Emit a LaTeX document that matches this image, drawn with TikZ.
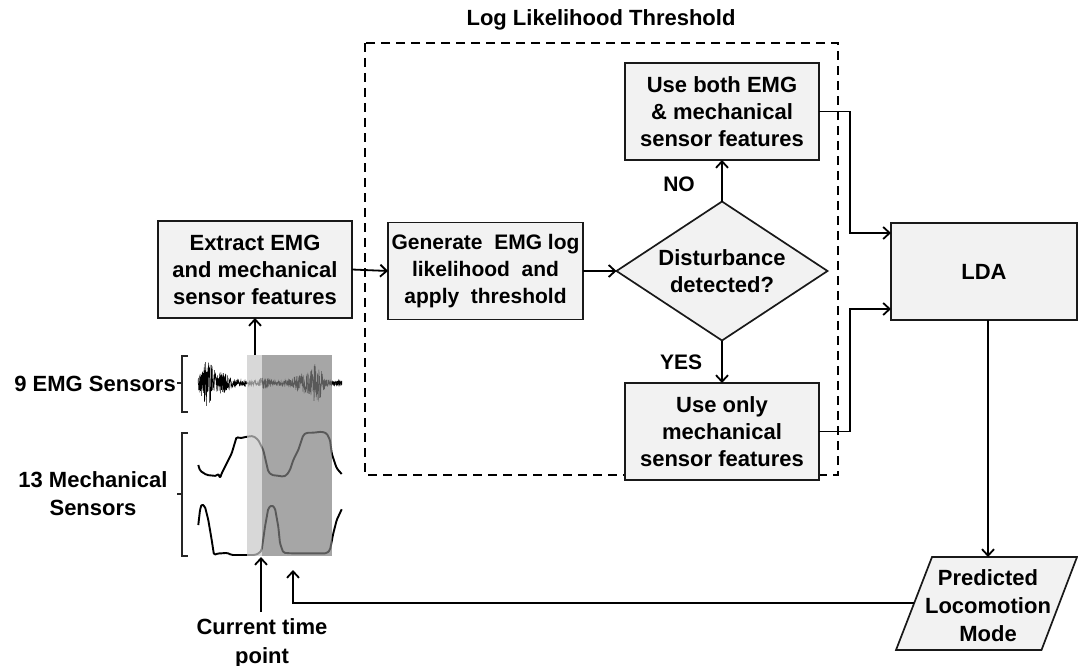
\documentclass[tikz,border=0pt]{standalone}
\usepackage{fontspec}
\setmainfont{Liberation Sans}
\usetikzlibrary{arrows.meta,shapes.geometric,calc}
\definecolor{boxfill}{HTML}{F2F2F2}
\definecolor{bandlight}{gray}{0.786}
\definecolor{banddark}{gray}{0.5}

\begin{document}
\begin{tikzpicture}[x=1pt,y=-1pt,
  declare function={emgenv(\t)=2.5
     +20*exp(-min(((\t-207)/7)^2,60))
     +8*exp(-min(((\t-222)/10)^2,60))
     +3.5*exp(-min(((\t-265)/6)^2,60))
     +8*exp(-min(((\t-303)/10)^2,60))
     +17*exp(-min(((\t-317)/6)^2,60));},
  lbl/.style={font=\fontsize{22}{27}\selectfont\bfseries, align=center, inner sep=0pt},
  procbox/.style={lbl, draw=black!90, line width=1.7pt, fill=boxfill,
                  minimum width=194pt, minimum height=97pt, outer sep=0pt},
  decision/.style={lbl, diamond, draw=black!90, line width=1.7pt, fill=boxfill,
                   aspect=1.518, minimum width=211pt, minimum height=139pt, outer sep=0pt},
  flow/.style={line width=1.8pt, -{Straight Barb[length=6.5pt,width=12pt,line width=1.8pt]}},
  trace/.style={line width=1.9pt, line join=round, rounded corners=1.5pt},
  brace/.style={line width=1.4pt, black!85},
]
\useasboundingbox (0,0) rectangle (1078,666);

% ---------- sensor signals ----------
\pgfmathsetseed{42}
\draw[black, line width=0.45pt]
  plot[samples=800, domain=198:342] (\x, {383 + emgenv(\x)*rand});

\draw[trace] (198.3,465) -- (200,470.7) -- (206.7,475) -- (216.7,476) -- (218.3,473.3)
  -- (220,478.3) -- (221.7,473.3) -- (226.7,463.3) -- (231.7,453.3) -- (236.7,436.7)
  -- (240,438.3) -- (246.7,436.7) -- (253.3,436) -- (258.3,440) -- (263.3,450)
  -- (268.3,471.7) -- (271.7,475) -- (280,476) -- (283.3,476.7) -- (286.7,475)
  -- (290,470) -- (293.3,460) -- (298.3,450) -- (303.3,435) -- (306.7,432.7)
  -- (313.3,432.7) -- (321.7,431.7) -- (326.7,433.3) -- (330,440) -- (331.7,453.3)
  -- (333.3,458.3) -- (336.7,468.3) -- (341.7,474);

\draw[trace] (198.3,525) -- (200,510) -- (201.7,504) -- (205,506.7) -- (208.3,520)
  -- (211.7,540) -- (214,555) -- (218.3,553.3) -- (223.3,553.3) -- (226.7,552.7)
  -- (231.7,555) -- (246.7,555) -- (255,555) -- (259,553.3) -- (261.7,550)
  -- (265,526.7) -- (268.3,508.3) -- (271.7,505) -- (275,508.3) -- (278.3,526.7)
  -- (280,543.3) -- (283.3,552.7) -- (290,553.3) -- (313.3,553.3) -- (326.7,553.3)
  -- (330,550) -- (333.3,533.3) -- (336.7,520) -- (341.7,509.3);

% analysis window
\fill[bandlight, opacity=0.7] (247,355) rectangle (262,556);
\fill[banddark, opacity=0.7] (262,355) rectangle (332,556);

% braces and sensor labels
\draw[brace] (188,356) -- (182,356) -- (182,412) -- (188,412);
\draw[brace] (182,383) -- (177,383);
\draw[brace] (188,433) -- (182,433) -- (182,556) -- (188,556);
\draw[brace] (182,494) -- (177,494);
\node[lbl, anchor=east] (emglbl) at (176,384) {9 EMG Sensors};
\node[lbl, font=\fontsize{22}{28}\selectfont\bfseries] (mechlbl) at (93,494) {13 Mechanical\\Sensors};

% ---------- threshold block ----------
\draw[line width=2.4pt, dash pattern=on 9pt off 6pt] (365,43) rectangle (838,475);
\node[lbl] (title) at (601,20) {Log Likelihood Threshold};

\node[procbox] (extract) at (255,269.5) {Extract EMG\\and mechanical\\sensor features};
\node[procbox, minimum width=195pt, font=\fontsize{21}{26.7}\selectfont\bfseries]
  (generate) at (485.5,271) {Generate\ \ EMG log\\likelihood\ \ and\\apply\ \ threshold};
\node[decision] (dec) at (722,271) {Disturbance\\detected?};
\node[procbox] (useboth) at (722,111.5) {Use both EMG\\\& mechanical\\sensor features};
\node[procbox] (useonly) at (722,431.5) {Use only\\mechanical\\sensor features};
\node[lbl, font=\fontsize{21}{26}\selectfont\bfseries] (no) at (679,184) {NO};
\node[lbl, font=\fontsize{21}{26}\selectfont\bfseries] (yes) at (681,362) {YES};

\node[procbox, minimum width=186pt] (lda) at (984,271.5) {LDA};

% ---------- output ----------
\coordinate (pbl) at (896,650);
\coordinate (ptl) at (932,557);
\coordinate (ptr) at (1077,557);
\coordinate (pbr) at (1041.5,650);
\draw[line width=1.7pt, draw=black!90, fill=boxfill, line join=miter] (pbl) -- (ptl) -- (ptr) -- (pbr) -- cycle;
\node[lbl, font=\fontsize{22}{28}\selectfont\bfseries] (mode) at (988,606) {Predicted\\Locomotion\\Mode};
\coordinate (modeN) at (988,557);
\coordinate (modeW) at (914,603);

\node[lbl, font=\fontsize{22}{29}\selectfont\bfseries] (ctp) at (262,643) {Current time\\point};

% ---------- connectors ----------
\coordinate (tap) at (255,355);
\coordinate (now) at (261,557);
\coordinate (prevT) at (293,570);

\draw[flow] (tap) -- (tap |- extract.south);
\draw[flow] (extract.east) -- (generate.west);
\draw[flow] (generate.east) -- (dec.west);
\draw[flow] (dec.north) -- (useboth.south);
\draw[flow] (dec.south) -- (useonly.north);
\draw[flow] (useboth.east) -- ++(31,0) |- ($(lda.west)+(0,-38.5)$);
\draw[flow] (useonly.east) -- ++(31,0) |- ($(lda.west)+(0,37.5)$);
\draw[flow] (lda.south -| modeN) -- (modeN);
\draw[flow] (modeW) -| (prevT);
\draw[flow] ($(ctp.north -| now)+(0,-6)$) -- (now);
\end{tikzpicture}
\end{document}
